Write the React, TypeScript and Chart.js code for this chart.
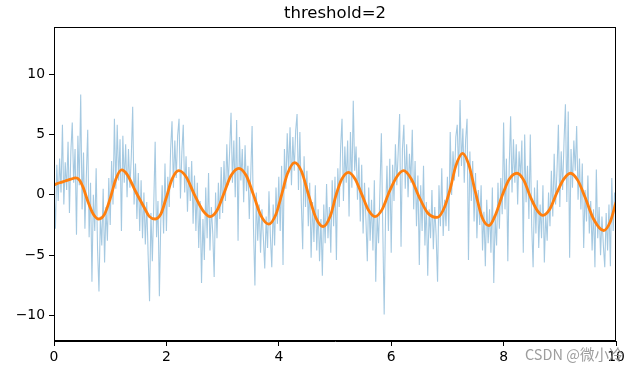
import React, { useEffect, useRef } from "react";
import { Chart, registerables } from "chart.js";

Chart.register(...registerables);

const TITLE = "threshold=2";
const WATERMARK = "CSDN @微小冷";
const X_TICKS = [0, 2, 4, 6, 8, 10];
const Y_TICKS = [-10, -5, 0, 5, 10];
const X_MIN = 0;
const X_MAX = 10;
const Y_MIN = -12.1;
const Y_MAX = 13.9;

// noisy signal, sampled every 0.025 from 0 to 10
const NOISE_STEP = 0.025;
const noisyValues = [
  0.5, -2.8, 2.5, -0.5, 3.0, 0.2, 5.8, -0.8, 2.7, 0.4, 4.4, -1.5, 3.6, 6.0, 1.0, 3.8, -3.3, 4.9, 0.8, 8.3,
  -1.2, 3.5, -2.8, 1.5, 5.4, -3.5, 1.0, -7.2, 0.0, -3.0, 2.2, -4.5, -8.0, -1.8, -4.2, 0.5, -5.6, -1.0, -3.8, 1.4,
  -2.5, 2.8, -0.8, 6.3, 0.5, 5.8, 1.2, 4.6, -3.0, 4.9, 1.0, 4.2, -0.2, 3.8, 0.6, 3.1, 7.3, -0.8, 2.6, -2.0,
  1.8, -3.0, 1.2, -3.6, 0.2, -4.1, -0.6, -5.0, -8.8, -1.5, -5.5, -0.8, 4.4, -3.5, -0.5, -8.4, -2.2, 0.8, -3.2, 2.6,
  -3.0, 1.5, -1.0, 3.8, 6.1, 0.6, 4.5, 1.4, 4.9, 6.3, -0.3, 3.5, 5.8, 0.2, 3.2, -1.4, 2.3, -0.5, 2.8, -2.4,
  1.6, -3.0, 1.0, -4.4, -0.5, -7.3, -2.0, -5.4, 0.6, -3.6, 1.8, -4.6, -1.0, -3.2, -6.8, 0.2, -3.6, 1.0, -2.0, 2.3,
  -1.5, 2.8, -0.5, 4.2, 0.8, 3.6, 6.8, 1.0, 4.5, -0.2, 6.2, -3.8, 4.8, 1.2, 3.8, -0.6, 4.1, 0.3, 2.4, -2.0,
  1.5, 5.7, -2.8, -7.5, 0.2, -3.8, -0.8, -4.8, -1.2, -3.5, -6.1, -1.8, -4.4, 0.3, -3.4, -6.0, -0.8, -4.2, 0.6, -2.4,
  1.5, -3.0, 2.4, -5.8, 3.8, 0.5, 5.1, 1.8, 5.6, 0.8, 4.8, 2.0, 5.3, 6.7, 0.4, 5.2, -0.5, -4.5, 3.2, -1.0,
  2.0, -2.6, 1.0, -5.2, -0.6, -3.9, 0.8, -4.6, -1.2, -5.5, -2.0, -6.7, -0.8, -4.0, 0.9, -3.6, -1.0, -4.8, 1.2, -2.6,
  1.5, -5.4, 2.2, -1.0, 3.9, 6.3, -0.5, 4.0, 1.0, 4.5, -1.8, 5.2, 0.6, 7.8, 2.0, 4.0, -0.4, 3.1, -2.2, 2.5,
  -3.2, 1.0, -2.0, -5.5, 0.6, -3.8, -0.4, -4.6, 1.2, -7.2, -1.6, -4.0, 0.4, 5.1, -2.8, -9.9, -1.5, 2.4, -3.0, 3.0,
  -4.8, 2.5, -0.5, 4.2, 0.8, 3.6, 6.7, -4.3, 3.8, 5.8, 0.5, 4.2, -0.2, 3.4, 1.0, 5.4, -1.2, 2.8, -2.6, 1.6,
  -5.8, 0.8, -3.0, 2.4, -4.2, -0.6, -6.7, -1.2, -3.6, 0.4, -4.5, -1.0, -3.4, -7.2, 0.8, -2.6, 2.2, -3.4, -0.4, -2.6,
  1.5, -3.0, 5.2, 0.0, 3.6, 1.2, 4.8, 5.8, 1.5, 7.85, 2.4, 5.5, 1.0, 4.6, 6.3, -5.4, 3.6, -0.5, 2.8, -2.2,
  1.8, -3.6, 0.4, -2.5, 0.8, -4.6, -1.4, -5.9, -0.4, -4.0, -1.2, -4.8, 0.6, -7.3, -1.8, -4.2, 1.0, -2.8, 1.4, -1.6,
  6.0, -1.2, 3.0, -5.5, 2.4, 6.5, 0.2, 4.6, 1.0, 4.2, -0.8, 3.6, 1.4, 4.5, -4.8, 5.0, -0.6, 2.4, -2.0, 5.0,
  -2.6, -6.0, 0.6, -3.2, 1.2, -4.4, -0.8, -3.6, 0.8, -5.6, -1.6, -3.8, 0.2, -2.6, 2.0, -1.8, 3.4, -0.8, 2.0, 5.8,
  -1.0, 3.6, 0.4, 4.4, 7.5, -0.6, 6.9, -5.2, 3.8, 0.6, 4.5, 2.0, 5.7, -0.4, 3.0, -1.2, 2.6, -4.4, 0.4, -2.2,
  1.6, -3.2, -0.5, -4.6, -1.2, -6.0, 2.1, -3.6, -1.0, -5.0, -1.8, -4.2, -6.0, -1.5, -4.6, -0.8, -5.9, 1.4, -3.0, 0.2,
  -1.2,
];

// filtered (smooth) signal key points
const smoothX = [
  0, 0.1, 0.2, 0.3, 0.38, 0.45, 0.52, 0.6, 0.7, 0.8, 0.9, 1.0, 1.1, 1.2, 1.3, 1.45, 1.6, 1.7, 1.8, 1.9,
  2.0, 2.1, 2.22, 2.35, 2.5, 2.65, 2.78, 2.9, 3.03, 3.15, 3.29, 3.42, 3.55, 3.68, 3.82, 3.95, 4.05, 4.15, 4.28, 4.4,
  4.53, 4.66, 4.79, 4.92, 5.02, 5.12, 5.24, 5.36, 5.48, 5.6, 5.71, 5.84, 5.97, 6.1, 6.22, 6.36, 6.5, 6.65, 6.82, 6.95,
  7.05, 7.15, 7.27, 7.38, 7.5, 7.62, 7.74, 7.86, 7.98, 8.1, 8.24, 8.36, 8.48, 8.6, 8.7, 8.82, 8.95, 9.07, 9.19, 9.32,
  9.45, 9.6, 9.78, 9.9, 10,
];
const smoothY = [
  0.83, 1.0, 1.15, 1.3, 1.4, 1.25, 0.6, -0.5, -1.6, -2.0, -1.6, -0.3, 1.3, 2.07, 1.7, 0.3, -1.0, -1.8, -2.0, -1.6,
  -0.2, 1.3, 2.0, 1.5, 0.0, -1.3, -1.8, -1.3, 0.2, 1.6, 2.2, 1.6, 0.0, -1.7, -2.42, -1.6, 0.0, 1.7, 2.67, 2.0,
  0.0, -1.9, -2.62, -1.7, 0.0, 1.3, 1.87, 1.3, 0.0, -1.3, -1.8, -1.2, 0.3, 1.5, 2.0, 1.3, -0.2, -1.5, -1.87, -1.0,
  0.5, 2.4, 3.44, 2.5, 0.2, -1.9, -2.54, -1.6, 0.0, 1.3, 1.79, 1.2, -0.2, -1.3, -1.7, -1.2, 0.2, 1.3, 1.79, 1.2,
  -0.2, -2.0, -2.95, -2.2, -0.6,
];

const minus = (v: number) => String(v).replace("-", "\u2212");

export default function App() {
  const ref = useRef<HTMLCanvasElement | null>(null);

  useEffect(() => {
    document.body.style.margin = "0";
    const canvas = ref.current;
    if (!canvas) return;

    const noisyData = noisyValues.map((y, i) => ({ x: +(i * NOISE_STEP).toFixed(3), y }));
    const smoothData = smoothX.map((x, i) => ({ x, y: smoothY[i] }));

    const framePlugin = {
      id: "frame",
      afterDraw(chart: any) {
        const { ctx, chartArea } = chart;
        ctx.save();
        ctx.strokeStyle = "#000";
        ctx.lineWidth = 1;
        ctx.strokeRect(
          Math.round(chartArea.left) + 0.5,
          Math.round(chartArea.top) + 0.5,
          Math.round(chartArea.right - chartArea.left) - 1,
          Math.round(chartArea.bottom - chartArea.top) - 1
        );
        ctx.font = '14.5px "Noto Sans CJK SC", "DejaVu Sans", sans-serif';
        ctx.fillStyle = "rgba(140,140,140,0.85)";
        ctx.textBaseline = "alphabetic";
        ctx.textAlign = "left";
        ctx.fillText(WATERMARK, 525, 360);
        ctx.restore();
      },
    };

    const chart = new Chart(canvas, {
      type: "line",
      data: {
        datasets: [
          {
            data: smoothData,
            borderColor: "#ff7f0e",
            borderWidth: 2.8,
            pointRadius: 0,
            cubicInterpolationMode: "monotone",
            order: 0,
          },
          {
            data: noisyData,
            borderColor: "rgba(31,119,180,0.4)",
            borderWidth: 1.1,
            pointRadius: 0,
            tension: 0,
            order: 1,
          },
        ],
      },
      options: {
        animation: false,
        responsive: false,
        devicePixelRatio: 1,
        layout: { padding: { left: 0, right: 24, top: 0, bottom: 0 } },
        plugins: {
          legend: { display: false },
          tooltip: { enabled: false },
          title: {
            display: true,
            text: TITLE,
            fullSize: false,
            color: "#000",
            font: { family: "DejaVu Sans", size: 16.5, weight: "normal", lineHeight: 1.2 },
            padding: { top: 3.5, bottom: 3.7 },
          },
        },
        scales: {
          x: {
            type: "linear",
            min: X_MIN,
            max: X_MAX,
            afterBuildTicks: (s: any) => {
              s.ticks = X_TICKS.map((v) => ({ value: v }));
            },
            afterFit: (s: any) => {
              s.height = 30;
            },
            grid: { drawOnChartArea: false, drawTicks: true, tickLength: 5, color: "#000", lineWidth: 1 },
            border: { display: true, color: "#000", width: 1 },
            ticks: {
              color: "#000",
              padding: 3,
              maxRotation: 0,
              font: { family: "DejaVu Sans", size: 13.9 },
              callback: (v: any) => minus(v),
            },
          },
          y: {
            type: "linear",
            min: Y_MIN,
            max: Y_MAX,
            afterBuildTicks: (s: any) => {
              s.ticks = Y_TICKS.map((v) => ({ value: v }));
            },
            afterFit: (s: any) => {
              s.width = 54;
            },
            grid: { drawOnChartArea: false, drawTicks: true, tickLength: 5, color: "#000", lineWidth: 1 },
            border: { display: true, color: "#000", width: 1 },
            ticks: {
              color: "#000",
              padding: 4,
              font: { family: "DejaVu Sans", size: 13.9 },
              callback: (v: any) => minus(v),
            },
          },
        },
      },
      plugins: [framePlugin],
    } as any);

    return () => chart.destroy();
  }, []);

  return (
    <div style={{ position: "absolute", left: 0, top: 0, width: 640, height: 371, background: "#fff" }}>
      <canvas ref={ref} width={640} height={371} style={{ display: "block", width: 640, height: 371 }} />
    </div>
  );
}
